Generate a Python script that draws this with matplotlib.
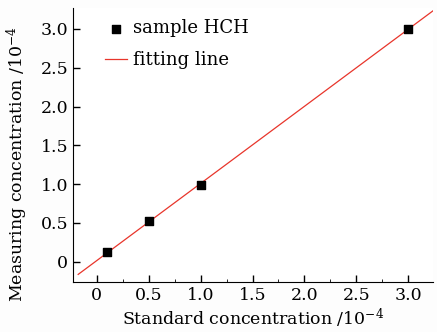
import numpy as np
import matplotlib
matplotlib.use("Agg")
import matplotlib.pyplot as plt
from matplotlib.ticker import MultipleLocator

plt.rcParams['font.family'] = ['DejaVu Serif']
plt.rcParams['mathtext.fontset'] = 'dejavuserif'

# standard vs measured concentration (x1e-4)
standard = [0.1, 0.5, 1.0, 3.0]
measured = [0.12, 0.52, 0.99, 3.0]
fit_range = [-0.18, 3.3]

k, b = np.polyfit(standard, measured, 1)
fit_x = np.array(fit_range)
fit_y = k * fit_x + b

fig = plt.figure(figsize=(4.37, 3.32), dpi=100)
ax = fig.add_axes([0.167, 0.151, 0.824, 0.825])

ax.plot(fit_x, fit_y, color='#e8352b', lw=0.9, label='fitting line', zorder=2)
ax.scatter(standard, measured, marker='s', s=38, color='black', label='sample HCH', zorder=3)

ax.set_xlim(-0.23, 3.24)
ax.set_ylim(-0.26, 3.27)
ax.set_xticks([0, 0.5, 1.0, 1.5, 2.0, 2.5, 3.0])
ax.set_xticklabels(['0', '0.5', '1.0', '1.5', '2.0', '2.5', '3.0'])
ax.set_yticks([0, 0.5, 1.0, 1.5, 2.0, 2.5, 3.0])
ax.set_yticklabels(['0', '0.5', '1.0', '1.5', '2.0', '2.5', '3.0'])
ax.xaxis.set_minor_locator(MultipleLocator(0.25))

for s in ['top', 'right']:
    ax.spines[s].set_visible(False)
ax.tick_params(which='major', direction='in', length=5, width=1, labelsize=12.5)
ax.tick_params(which='minor', direction='in', length=2, width=0.6)

ax.set_xlabel(r'Standard concentration /10$^{-4}$', fontsize=12.5, labelpad=2)
ax.set_ylabel(r'Measuring concentration /10$^{-4}$', fontsize=12.5)
ax.yaxis.set_label_coords(-0.12, 0.43)

handles, labels = ax.get_legend_handles_labels()
ax.legend(handles[::-1], labels[::-1], loc='upper left', bbox_to_anchor=(0.07, 0.985),
          frameon=False, fontsize=13, handlelength=1.2, handletextpad=0.35,
          labelspacing=0.75, borderaxespad=0)

fig.savefig('out.png', dpi=100, facecolor='#fdfdfd')
